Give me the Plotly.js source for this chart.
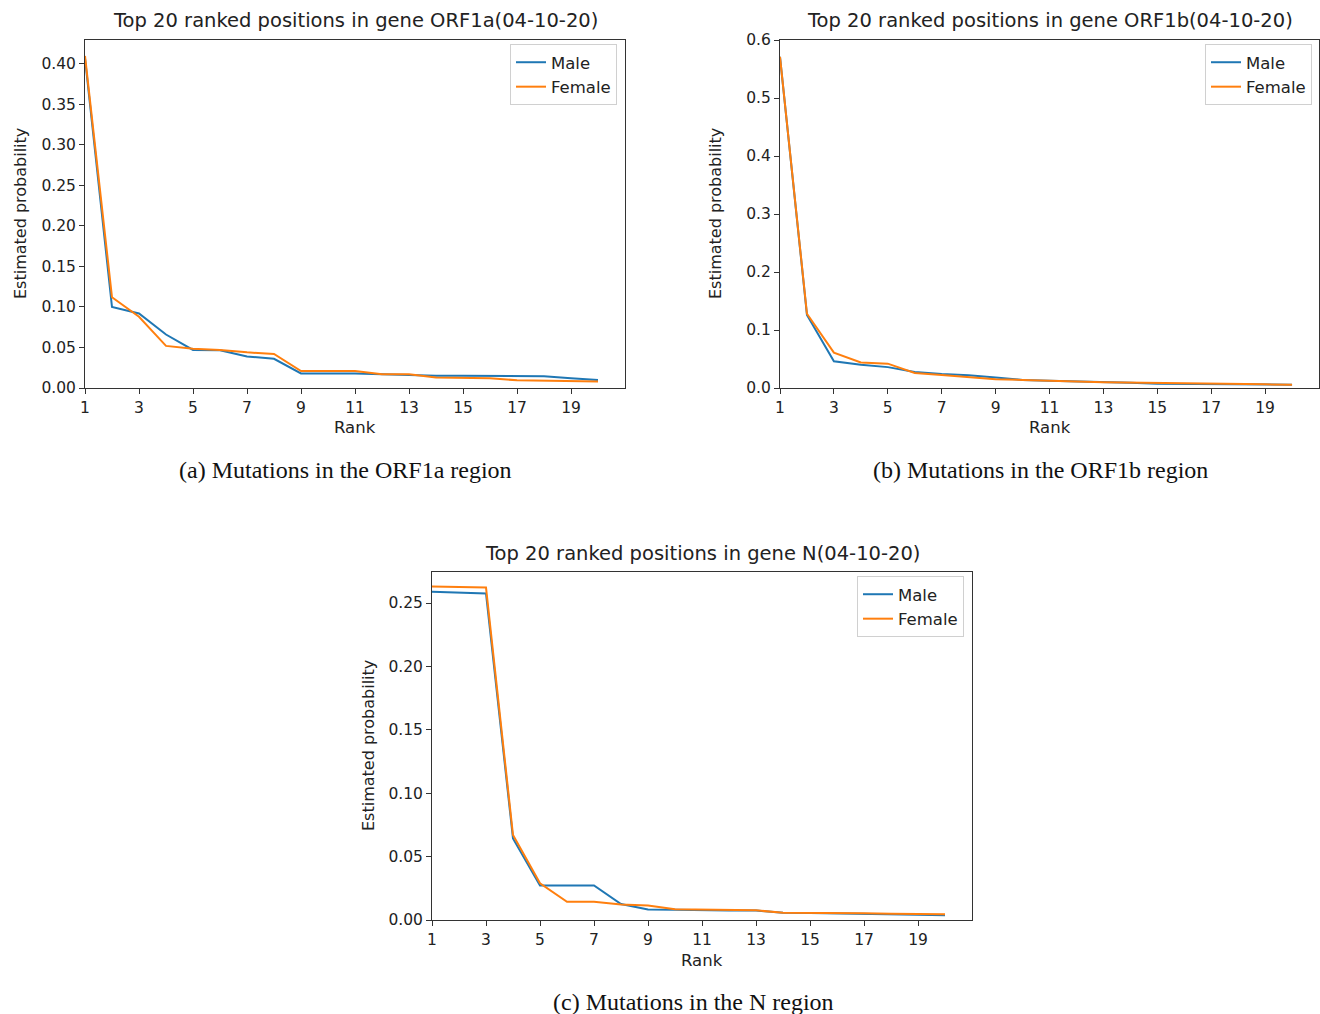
<!DOCTYPE html>
<html>
<head>
<meta charset="utf-8">
<script src="https://cdn.plot.ly/plotly-3.0.1.min.js"></script>
<style>html,body{margin:0;padding:0;background:#fff;}#chart{width:1320px;height:1014px;}</style>
</head>
<body>
<div id="chart"></div>
<script>
const ranks = [1,2,3,4,5,6,7,8,9,10,11,12,13,14,15,16,17,18,19,20];
const xTicks = [1,3,5,7,9,11,13,15,17,19];

const orf1aMale   = [0.407,0.100,0.092,0.066,0.047,0.0465,0.039,0.036,0.018,0.018,0.018,0.017,0.016,0.015,0.015,0.015,0.015,0.0145,0.012,0.010];
const orf1aFemale = [0.410,0.112,0.088,0.052,0.0486,0.047,0.044,0.042,0.021,0.021,0.021,0.017,0.017,0.013,0.0125,0.012,0.0095,0.009,0.0085,0.008];

const orf1bMale   = [0.571,0.126,0.046,0.040,0.036,0.0276,0.024,0.022,0.018,0.014,0.0126,0.011,0.0098,0.009,0.0075,0.007,0.0063,0.006,0.0057,0.0057];
const orf1bFemale = [0.571,0.128,0.061,0.044,0.042,0.026,0.0224,0.019,0.015,0.014,0.012,0.011,0.0098,0.009,0.0086,0.008,0.0075,0.007,0.0063,0.0057];

const nMale   = [0.259,0.2584,0.2576,0.0643,0.0273,0.0273,0.0273,0.0126,0.0082,0.008,0.0076,0.0074,0.0074,0.0058,0.0055,0.0053,0.0047,0.0045,0.0042,0.0037];
const nFemale = [0.263,0.2626,0.2623,0.067,0.0289,0.0144,0.0144,0.0123,0.0115,0.0084,0.008,0.0079,0.0076,0.0058,0.0058,0.0058,0.0053,0.005,0.005,0.0045];

const titles = ["Top 20 ranked positions in gene ORF1a(04-10-20)","Top 20 ranked positions in gene ORF1b(04-10-20)","Top 20 ranked positions in gene N(04-10-20)"];
const captions = ["(a) Mutations in the ORF1a region","(b) Mutations in the ORF1b region","(c) Mutations in the N region"];
const seriesNames = ["Male","Female"];

const W = 1320, H = 1014;
const FONT = "DejaVu Sans, sans-serif";
const TXT = "#222";
const BLUE = "#1f77b4", ORANGE = "#ff7f0e";

// pixel boxes [left, right, top, bottom]
const boxes = [[85,625,40,388],[780,1319,40,388],[432,972,572,920]];
const yRanges = [[0,0.4296],[0,0.6],[0,0.2745]];
const yTickVals = [[0,0.05,0.10,0.15,0.20,0.25,0.30,0.35,0.40],[0,0.1,0.2,0.3,0.4,0.5,0.6],[0,0.05,0.10,0.15,0.20,0.25]];
const yFormats = [".2f",".1f",".2f"];
const legendPos = [[617,44],[1312,44],[964,576]];
const captionPos = [[345,470],[1040,470],[693,1002]];
const dataSets = [[orf1aMale,orf1aFemale],[orf1bMale,orf1bFemale],[nMale,nFemale]];

const traces = [];
const layout = {
  width: W, height: H,
  margin: {l:0,r:0,t:0,b:0},
  paper_bgcolor: "#fff", plot_bgcolor: "#fff",
  font: {family: FONT, size: 15, color: TXT},
  showlegend: true,
  annotations: []
};

for (let i = 0; i < 3; i++) {
  const [l, r, t, b] = boxes[i];
  const sfx = i === 0 ? "" : String(i + 1);
  const xa = "xaxis" + sfx, ya = "yaxis" + sfx;
  const legName = i === 0 ? "legend" : "legend" + (i + 1);
  const axCommon = {
    showline: true, mirror: true, linecolor: "#333", linewidth: 1,
    ticks: "outside", ticklen: 5, tickwidth: 1, tickcolor: "#333",
    showgrid: false, zeroline: false,
    tickfont: {family: FONT, size: 15.5, color: TXT}
  };
  layout[xa] = Object.assign({}, axCommon, {
    domain: [l / W, r / W], range: [1, 21], anchor: "y" + sfx,
    tickmode: "array", tickvals: xTicks, ticktext: xTicks.map(String)
  });
  layout[ya] = Object.assign({}, axCommon, {
    domain: [1 - b / H, 1 - t / H], range: yRanges[i], anchor: "x" + sfx,
    tickmode: "array", tickvals: yTickVals[i], tickformat: yFormats[i]
  });
  const colors = [BLUE, ORANGE];
  for (let s = 0; s < 2; s++) {
    traces.push({
      x: ranks, y: dataSets[i][s], type: "scatter", mode: "lines",
      name: seriesNames[s], xaxis: "x" + sfx, yaxis: "y" + sfx,
      line: {color: colors[s], width: 2}, legend: legName
    });
  }
  layout[legName] = {
    x: legendPos[i][0] / W, y: 1 - legendPos[i][1] / H,
    xanchor: "right", yanchor: "top",
    bgcolor: "rgba(255,255,255,0.9)", bordercolor: "#d0d0d0", borderwidth: 1,
    font: {family: FONT, size: 16.5, color: TXT}, tracegroupgap: 0
  };
  // title
  layout.annotations.push({
    text: titles[i], xref: "paper", yref: "paper",
    x: ((l + r) / 2) / W, y: 1 - (t - 19) / H, xanchor: "center", yanchor: "middle",
    showarrow: false, font: {family: FONT, size: 19.5, color: TXT}
  });
  // x axis title
  layout.annotations.push({
    text: "Rank", xref: "paper", yref: "paper",
    x: ((l + r) / 2) / W, y: 1 - (b + 40) / H, xanchor: "center", yanchor: "middle",
    showarrow: false, font: {family: FONT, size: 16.5, color: TXT}
  });
  // y axis title
  layout.annotations.push({
    text: "Estimated probability", xref: "paper", yref: "paper",
    x: (l - 64) / W, y: 1 - ((t + b) / 2) / H, xanchor: "center", yanchor: "middle",
    textangle: -90, showarrow: false, font: {family: FONT, size: 16, color: TXT}
  });
  // caption
  layout.annotations.push({
    text: captions[i], xref: "paper", yref: "paper",
    x: captionPos[i][0] / W, y: 1 - captionPos[i][1] / H, xanchor: "center", yanchor: "middle",
    showarrow: false, font: {family: "Liberation Serif, Times New Roman, serif", size: 24, color: "#111"}
  });
}

Plotly.newPlot("chart", traces, layout, {displayModeBar: false, staticPlot: true});
</script>
</body>
</html>
